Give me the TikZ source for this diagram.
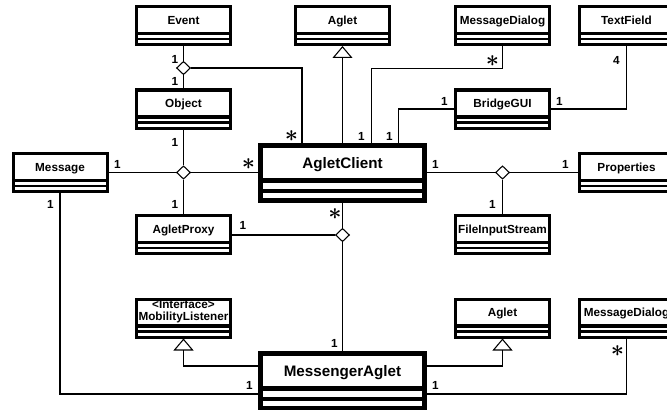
\documentclass[tikz,border=0pt]{standalone}
\usepackage{fontspec}
\setmainfont{Liberation Sans}
\usetikzlibrary{arrows.meta,shapes.geometric,calc}

\newcommand{\stereo}[2]{\vbox{\baselineskip=9pt\halign{\hfil##\hfil\cr#1\cr#2\cr}}}

\tikzset{
    cls/.style={draw, line width=2.25pt, fill=white, minimum width=70.5pt, inner sep=0pt,
        text height=13.35pt, text depth=15.15pt, font=\fontsize{8.8}{9}\selectfont\bfseries,
        path picture={
            \draw[line width=2.6pt] ([yshift=8.25pt]path picture bounding box.south west) -- ([yshift=8.25pt]path picture bounding box.south east);
            \draw[line width=1.9pt] ([yshift=4pt]path picture bounding box.south west) -- ([yshift=4pt]path picture bounding box.south east);
        }},
    bigcls/.style={draw, line width=3.75pt, fill=white, minimum width=123pt, inner sep=0pt,
        text height=17.25pt, text depth=24pt, font=\fontsize{11.4}{12}\selectfont\bfseries,
        path picture={
            \draw[line width=3.75pt] ([yshift=14.4pt]path picture bounding box.south west) -- ([yshift=14.4pt]path picture bounding box.south east);
            \draw[line width=3pt] ([yshift=7.1pt]path picture bounding box.south west) -- ([yshift=7.1pt]path picture bounding box.south east);
        }},
    dia/.style={diamond, draw, fill=white, line width=0.8pt, inner sep=0pt, minimum width=10.5pt, minimum height=10pt},
    assoc/.style={line width=0.8pt},
    inherit/.style={line width=0.8pt, -{Triangle[open, width=15pt, length=9pt]}},
    mult/.style={inner sep=0pt, font=\fontsize{8.8}{9}\selectfont\bfseries},
    many/.style={inner sep=0pt, font=\fontsize{17}{17}\selectfont\boldmath}
}

\begin{document}
\begin{tikzpicture}[x=0.75pt, y=-0.75pt]
    \useasboundingbox (0,0) rectangle (667,410);
    \clip (0,0) rectangle (667,410);

    %% classes
    \foreach \v/\x/\y/\t in
    {Event/183.5/25.5/Event,
        AgletUp/342.5/25.5/Aglet,
        DialogUp/502.5/25.5/MessageDialog,
        TextField/626.5/25.5/TextField,
        ObjectC/183.5/109/Object,
        BridgeGUI/502.5/109/BridgeGUI,
        Message/60/172.5/Message,
        Properties/626.5/172.5/Properties,
        AgletProxy/183.5/234.5/AgletProxy,
        FileInput/502.5/234.5/FileInputStream,
        AgletDown/502.5/318/Aglet,
        DialogDown/626.5/318/MessageDialog
    }
    {
        \node[cls] (\v) at (\x,\y) {\t};
    };
    \node[cls, text height=15.75pt, text depth=12.75pt] (Mobility) at (183.5,318) {\stereo{<Interface>}{MobilityListener}};
    \node[bigcls] (AgletClient) at (342.5,172.5) {AgletClient};
    \node[bigcls] (Messenger) at (342.5,380.5) {MessengerAglet};

    %% association diamonds
    \node[dia] (dEO) at (183.5,68) {};
    \node[dia] (dOM) at (183.5,172.5) {};
    \node[dia] (dAP) at (502.5,172.5) {};
    \node[dia] (dPM) at (342.5,235) {};

    %% connectors
    \draw[assoc] (Event.south) -- (dEO) -- (ObjectC.north);
    \draw[assoc] (dEO) -| ($(AgletClient.north)+(-40.5,0)$);
    \draw[assoc] (ObjectC.south) -- (dOM) -- (AgletProxy.north)
        (dOM) -- (dOM -| Message.east)
        (dOM) -- (dOM -| AgletClient.west);
    \draw[inherit] (AgletClient.north) -- (AgletUp.south);
    \draw[assoc] (DialogUp.south) -- ++(0,22.5) -| ($(AgletClient.north)+(29,0)$);
    \draw[assoc] (BridgeGUI.west) -| ($(AgletClient.north)+(56,0)$);
    \draw[assoc] (BridgeGUI.east) -| (TextField.south);
    \draw[assoc] (AgletClient.east) -- (dAP) -- (Properties.west)
        (dAP) -- (FileInput.north);
    \draw[assoc] (AgletClient.south) -- (dPM) -- (Messenger.north)
        (dPM) -- (dPM -| AgletProxy.east);
    \draw[inherit] ($(Messenger.west)+(0,-14.5)$) -| (Mobility.south);
    \draw[inherit] ($(Messenger.east)+(0,-14.5)$) -| (AgletDown.south);
    \draw[assoc] (Message.south) |- ($(Messenger.west)+(0,13.5)$);
    \draw[assoc] (DialogDown.south) |- ($(Messenger.east)+(0,13.5)$);

    %% multiplicities
    \foreach \v/\x/\y in
    {o1/175/59, o2/175/81, o3/175/142.5, o4/117.5/164.5, o5/175/204.5,
        o6/50.5/204.5, o7/361.5/136, o8/389.5/136, o9/444.5/101, o10/559.5/101,
        o11/435.5/164.5, o12/565.5/164.5, o13/492.5/204.5, o14/243/225,
        o15/334.5/343.5, o16/249.5/385, o17/435.5/385}
    {
        \node[mult] (\v) at (\x,\y) {1};
    };
    \node[mult] (four) at (616.5,60.5) {4};
    \foreach \v/\x/\y in
    {s1/291.5/136, s2/248.5/164.5, s3/492.5/61, s4/335/214, s5/617.5/351}
    {
        \node[many] (\v) at (\x,\y) {$\ast$};
    };
\end{tikzpicture}
\end{document}
